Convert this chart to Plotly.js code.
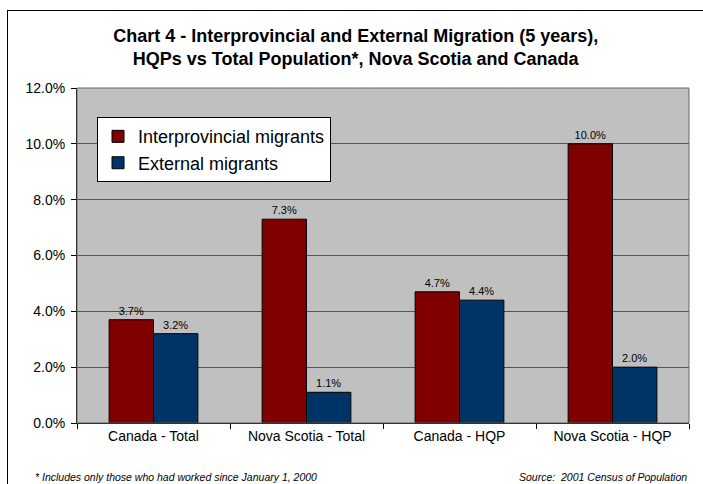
<!DOCTYPE html>
<html><head><meta charset="utf-8">
<script src="https://cdn.plot.ly/plotly-3.0.1.min.js"></script>
<style>body{margin:0;background:#fff}#frame{position:absolute;left:7px;top:10px;width:700px;height:480px;border:1px solid #000;pointer-events:none}#chart{width:703px;height:484px}</style>
</head><body>
<div id="chart"></div><div id="frame"></div>
<script>
const categories = ["Canada - Total", "Nova Scotia - Total", "Canada - HQP", "Nova Scotia - HQP"];
const interprovincial = [3.7, 7.3, 4.7, 10.0];
const external = [3.2, 1.1, 4.4, 2.0];
const yTicks = [0, 2, 4, 6, 8, 10, 12];
const yTickLabels = ["0.0%", "2.0%", "4.0%", "6.0%", "8.0%", "10.0%", "12.0%"];

const common = {type: 'bar', textposition: 'outside', cliponaxis: false,
  textfont: {family: 'Liberation Sans, Arial', size: 11, color: '#000'}};
const data = [
  Object.assign({}, common, {name: 'Interprovincial migrants', x: categories, y: interprovincial,
    text: interprovincial.map(v => v.toFixed(1) + '%'),
    marker: {color: '#800000', line: {color: '#000', width: 1}}}),
  Object.assign({}, common, {name: 'External migrants', x: categories, y: external,
    text: external.map(v => v.toFixed(1) + '%'),
    marker: {color: '#003366', line: {color: '#000', width: 1}}})
];
const layout = {
  width: 703, height: 484,
  margin: {l: 77, r: 14, t: 88, b: 61},
  paper_bgcolor: '#fff', plot_bgcolor: '#C0C0C0',
  font: {family: 'Liberation Sans, Arial', color: '#000', size: 14},
  title: {text: '<b>Chart 4 - Interprovincial and External Migration (5 years),<br>HQPs vs Total Population*, Nova Scotia and Canada</b>',
    font: {size: 18, family: 'Liberation Sans, Arial'}, xref: 'container', x: 0.506, xanchor: 'center',
    yref: 'container', y: 0.914, yanchor: 'top'},
  bargap: 0.42, bargroupgap: 0,
  showlegend: true,
  legend: {x: 0.0327, y: 0.913, xanchor: 'left', yanchor: 'top', bgcolor: '#fff', bordercolor: '#000', borderwidth: 1,
    font: {size: 18}, traceorder: 'normal', itemwidth: 30, tracegroupgap: 0, entrywidth: 250, entrywidthmode: 'pixels'},
  xaxis: {showline: true, linecolor: '#000', ticks: 'outside', ticklen: 5, tickcolor: '#000',
    tickfont: {size: 14}, showgrid: false, tickson: 'boundaries'},
  yaxis: {range: [0, 12], tickvals: yTicks, ticktext: yTickLabels, showline: true, linecolor: '#000',
    ticks: 'outside', ticklen: 5, tickcolor: '#000', gridcolor: '#555', gridwidth: 1, zeroline: false,
    tickfont: {size: 14}, ticklabelstandoff: 3},
  shapes: [{type: 'rect', xref: 'paper', yref: 'paper', x0: 0, x1: 1, y0: 0, y1: 1, line: {color: '#666', width: 1}}],
  annotations: [
    {text: '<i>* Includes only those who had worked since January 1, 2000</i>', xref: 'paper', yref: 'paper',
     x: -0.072, y: -0.16, xanchor: 'left', yanchor: 'middle', showarrow: false, font: {size: 10.5}},
    {text: '<i>Source:  2001 Census of Population</i>', xref: 'paper', yref: 'paper',
     x: 1, y: -0.16, xanchor: 'right', yanchor: 'middle', showarrow: false, font: {size: 10.5}}
  ]
};
Plotly.newPlot('chart', data, layout, {displayModeBar: false, staticPlot: true});
</script>
</body></html>
